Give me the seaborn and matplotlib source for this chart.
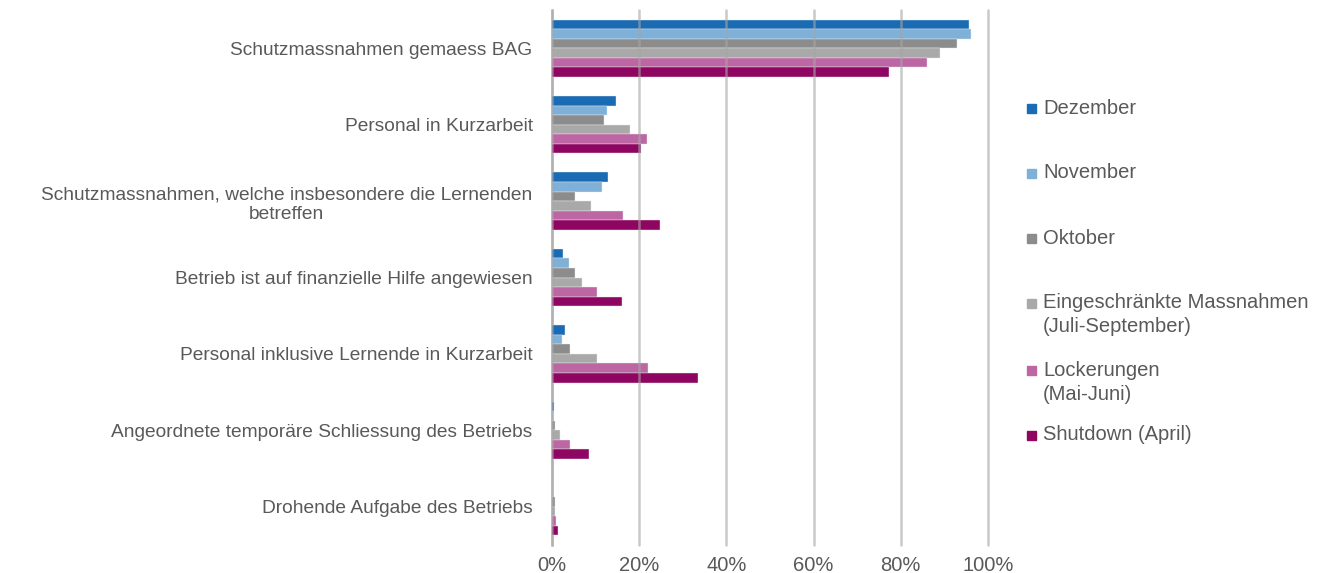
import numpy as np
import pandas as pd
import seaborn as sns
import matplotlib.pyplot as plt
from matplotlib.patches import Rectangle

# --- Data ---
categories = [
    "Schutzmassnahmen gemaess BAG",
    "Personal in Kurzarbeit",
    "Schutzmassnahmen, welche insbesondere die Lernenden\nbetreffen",
    "Betrieb ist auf finanzielle Hilfe angewiesen",
    "Personal inklusive Lernende in Kurzarbeit",
    "Angeordnete temporäre Schliessung des Betriebs",
    "Drohende Aufgabe des Betriebs",
]
periods = [
    "Dezember",
    "November",
    "Oktober",
    "Eingeschränkte Massnahmen\n(Juli-September)",
    "Lockerungen\n(Mai-Juni)",
    "Shutdown (April)",
]
dezember = [95.6, 14.7, 12.9, 2.5, 3.0, 0.5, 0.0]
november = [96.1, 12.7, 11.4, 3.9, 2.4, 0.2, 0.0]
oktober = [92.9, 12.0, 5.3, 5.3, 4.1, 0.8, 0.8]
eingeschraenkt = [88.9, 17.9, 8.9, 6.9, 10.3, 1.8, 0.8]
lockerungen = [86.1, 21.9, 16.2, 10.4, 22.1, 4.1, 1.0]
shutdown = [77.4, 20.5, 24.8, 16.1, 33.4, 8.4, 1.4]
colors = ["#1A6BB4", "#7FB0D8", "#8C8C8C", "#A9A9A9", "#BC66A3", "#8E0662"]

series = [dezember, november, oktober, eingeschraenkt, lockerungen, shutdown]
rows = []
for period, vals in zip(periods, series):
    for cat, v in zip(categories, vals):
        rows.append({"Kategorie": cat, "Periode": period, "Anteil": v})
df = pd.DataFrame(rows)

# --- Plot ---
sns.set_style("white")
plt.rcParams['font.family'] = ['Liberation Sans', 'DejaVu Sans']
text_color = "#595959"

fig = plt.figure(figsize=(13.24, 5.73), dpi=100)
ax = fig.add_axes([0.4169, 0.0489, 0.3293, 0.9336])

sns.barplot(data=df, y="Kategorie", x="Anteil", hue="Periode",
            order=categories, hue_order=periods, palette=colors,
            saturation=1, orient="h", width=0.75,
            edgecolor="#e8e8e8", linewidth=0.3,
            legend=False, ax=ax)

ax.set_xlim(0, 100)
ax.set_ylim(len(categories) - 0.5, -0.5)
ax.set_xticks(np.arange(0, 101, 20))
ax.set_xticklabels([f"{t}%" for t in range(0, 101, 20)])
ax.set_xlabel("")
ax.set_ylabel("")
ax.grid(axis="x", color="#A6A6A6", linewidth=1.8, alpha=0.6)
for gl in ax.get_xgridlines():
    gl.set_clip_on(False)
ax.set_axisbelow(False)
for s in ["top", "right", "bottom"]:
    ax.spines[s].set_visible(False)
ax.spines["left"].set_color("#BFBFBF")
ax.spines["left"].set_linewidth(1.8)
ax.spines["left"].set_zorder(0.5)
ax.tick_params(axis="both", length=0, labelcolor=text_color)
ax.tick_params(axis="y", pad=14, labelsize=13.8)
ax.tick_params(axis="x", pad=8, labelsize=14.5)
for lbl in ax.get_yticklabels():
    lbl.set_multialignment("center")

# --- Legend (marker aligned to first line, as in the reference) ---
W, H = 1324, 573
first_line_y = [108, 173, 238, 303, 370, 435]
for period, col, y in zip(periods, colors, first_line_y):
    fig.patches.append(Rectangle((1027 / W, 1 - (y + 5) / H), 9 / W, 9 / H,
                                 transform=fig.transFigure, color=col))
    for i, line in enumerate(period.split("\n")):
        fig.text(1043 / W, 1 - (y + i * 24) / H, line, fontsize=14.5,
                 color=text_color, va="center", ha="left")

plt.savefig("out.png", dpi=100)
